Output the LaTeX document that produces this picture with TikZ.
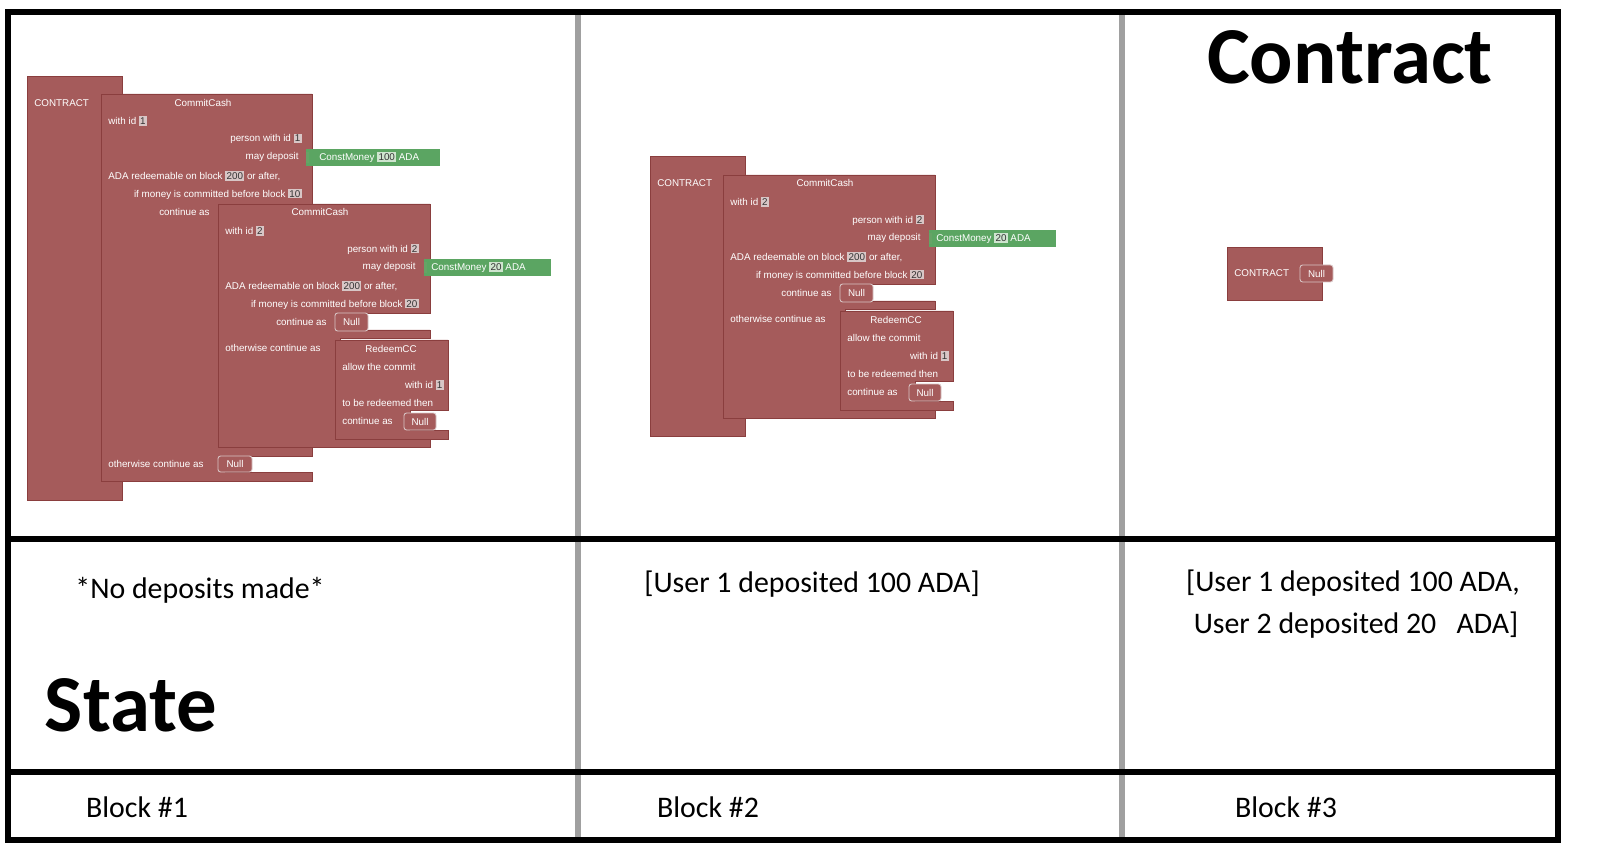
\documentclass[tikz,border=0pt]{standalone}
\usepackage{fontspec}
\setmainfont{Carlito}
\newfontfamily\blk{Liberation Sans}
\definecolor{bred}{HTML}{A55B5B}
\definecolor{bdark}{HTML}{8A3E3E}
\definecolor{bgreen}{HTML}{5BA562}
\definecolor{nbg}{HTML}{D8C6C6}
\definecolor{ngbg}{HTML}{CFE5CF}
\definecolor{gridg}{HTML}{A0A0A0}
\newcommand\numRed[1]{{\setlength\fboxsep{0.7pt}\colorbox{nbg}{\textcolor{black!80}{#1}}}}
\newcommand\numGrn[1]{{\setlength\fboxsep{0.7pt}\colorbox{ngbg}{\textcolor{black!80}{#1}}}}
\tikzset{
 blkf/.style={fill=bred,draw=bdark,line width=0.4pt},
 nullb/.style={fill=bred,draw=nbg,line width=0.5pt,rounded corners=1.5pt},
 grn/.style={fill=bgreen,draw=none},
 bt/.style={text=white,font=\blk\fontsize{5.6}{6}\selectfont,inner sep=0pt},
 big/.style={font=\fontsize{17}{20}\selectfont,inner sep=0pt},
 title/.style={font=\bfseries\fontsize{46}{50}\selectfont,inner sep=0pt}
}
\newcommand\ccTwo{%
 \draw[blkf] (0,0)--(212,0)--(212,109)--(122,109)--(122,126)--(212,126)--(212,134)--(122,134)--(122,234)--(212,234)--(212,243)--(0,243)--cycle;
 \draw[nullb] (117,109) rectangle (150,127) node[bt,midway]{Null};
 \draw[blkf] (117,136)--(230,136)--(230,206)--(192,206)--(192,226)--(230,226)--(230,235)--(117,235)--cycle;
 \draw[nullb] (186,209) rectangle (218,226) node[bt,midway]{Null};
 \fill[grn] (206,55) rectangle (333,72);
 \fill[green!40!black!60] (206,58) rectangle (209,69);
 \node[bt,anchor=west] at (213,63.5) {ConstMoney \numGrn{20} ADA};
 \node[bt] at (102,8) {CommitCash};
 \node[bt,anchor=west] at (7,27) {with id \numRed{2}};
 \node[bt,anchor=east] at (201,45) {person with id \numRed{2}};
 \node[bt,anchor=east] at (198,63) {may deposit};
 \node[bt,anchor=west] at (7,82) {ADA redeemable on block \numRed{200} or after,};
 \node[bt,anchor=east] at (201,100) {if money is committed before block \numRed{20}};
 \node[bt,anchor=east] at (109,118) {continue as};
 \node[bt,anchor=west] at (7,144) {otherwise continue as};
 \node[bt] at (173,145) {RedeemCC};
 \node[bt,anchor=west] at (124,163) {allow the commit};
 \node[bt,anchor=east] at (226,181) {with id \numRed{1}};
 \node[bt,anchor=west] at (124,199) {to be redeemed then};
 \node[bt,anchor=west] at (124,217) {continue as};
}
\begin{document}
\begin{tikzpicture}[x=0.02cm,y=-0.02cm]
\useasboundingbox (0,0) rectangle (1600,868);
\fill[white] (0,0) rectangle (1600,868);
% grid
\draw[gridg,line width=3pt] (578,12)--(578,840) (1122,12)--(1122,840);
\draw[line width=3pt] (8,539)--(1558,539) (8,772)--(1558,772);
\draw[line width=3pt] (8,12) rectangle (1558,840);
% panel 1
\draw[blkf] (27,76) rectangle (122,500);
\draw[blkf] (101,94)--(312,94)--(312,210)--(225,210)--(225,447)--(312,447)--(312,456)--(225,456)--(225,472)--(312,472)--(312,481)--(101,481)--cycle;
\draw[nullb] (218,456) rectangle (252,472) node[bt,midway]{Null};
\fill[grn] (306,149) rectangle (440,166);
\fill[green!40!black!60] (306,152) rectangle (309,163);
\node[bt,anchor=west] at (319,157.5) {ConstMoney \numGrn{100} ADA};
\node[bt,anchor=west] at (34,103) {CONTRACT};
\node[bt] at (203,103) {CommitCash};
\node[bt,anchor=west] at (108,121) {with id \numRed{1}};
\node[bt,anchor=east] at (302,139) {person with id \numRed{1}};
\node[bt,anchor=east] at (299,157) {may deposit};
\node[bt,anchor=west] at (108,176) {ADA redeemable on block \numRed{200} or after,};
\node[bt,anchor=east] at (302,194) {if money is committed before block \numRed{10}};
\node[bt,anchor=east] at (210,212) {continue as};
\node[bt,anchor=west] at (108,464) {otherwise continue as};
\begin{scope}[shift={(218,204)}]\ccTwo\end{scope}
% panel 2
\draw[blkf] (650,156) rectangle (745,436);
\node[bt,anchor=west] at (657,183) {CONTRACT};
\begin{scope}[shift={(723,175)}]\ccTwo\end{scope}
% panel 3
\draw[blkf] (1227,247) rectangle (1322,300);
\draw[nullb] (1300,265) rectangle (1333,282) node[bt,midway]{Null};
\node[bt,anchor=west] at (1234,273) {CONTRACT};
% texts
\node[title] (ct) at (1350,57) {Contract};
\node[title] (st) at (131,705) {State};
\node[big] (s1) at (200,590) {*No deposits made*};
\node[big] (s2) at (812,584) {[User 1 deposited 100 ADA]};
\node[big] (s3a) at (1353,583) {[User 1 deposited 100 ADA,};
\node[big] (s3b) at (1356,625) {User 2 deposited 20\ \ \ ADA]};
\node[big] (b1) at (137,807) {Block \#1};
\node[big] (b2) at (708,807) {Block \#2};
\node[big] (b3) at (1286,807) {Block \#3};
\end{tikzpicture}
\end{document}
